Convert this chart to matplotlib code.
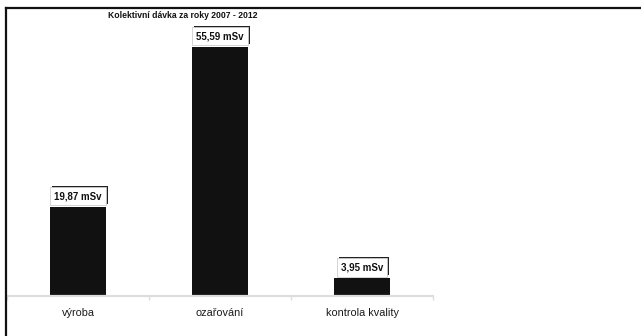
import matplotlib.pyplot as plt
import matplotlib.patheffects as pe
from matplotlib.lines import Line2D

categories = ['výroba', 'ozařování', 'kontrola kvality']
values = [19.87, 55.59, 3.95]
value_labels = ['19,87 mSv', '55,59 mSv', '3,95 mSv']
title = 'Kolektivní dávka za roky 2007 - 2012'

plt.rcParams['font.family'] = ['Liberation Sans', 'DejaVu Sans']

W, H = 641, 336
fig = plt.figure(figsize=(W / 100, H / 100), dpi=100)

# plot area in pixel terms: x 7..433, baseline at y=296
left, right, base, top = 7, 433, 296, 20
ax = fig.add_axes([left / W, (H - base) / H, (right - left) / W, (base - top) / H])
ax.bar(range(len(values)), values, width=0.4, color='#111111', zorder=2)
ax.set_xlim(-0.5, len(values) - 0.5)
ax.set_ylim(0, (base - top) / 4.48)

for s in ['left', 'right', 'top']:
    ax.spines[s].set_visible(False)
ax.spines['bottom'].set_color('#dddddd')
ax.spines['bottom'].set_linewidth(1.6)
ax.set_yticks([])
ax.set_xticks([-0.5, 0.5, 1.5, 2.5])
ax.set_xticklabels([])
ax.tick_params(axis='x', length=3, color='#dddddd', width=1)
for i, c in enumerate(categories):
    ax.text(i, -0.062, c, transform=ax.get_xaxis_transform(), ha='center', va='center',
            fontsize=7.8, color='#1a1a1a')

for i, (v, lab) in enumerate(zip(values, value_labels)):
    t = ax.annotate(lab, (i, v), xytext=(0, 7.8), textcoords='offset points',
                    ha='center', va='center', fontsize=7, fontweight='bold', color='#111111',
                    bbox=dict(boxstyle='square,pad=0.42', fc='white', ec='#cccccc', lw=0.6),
                    zorder=3)
    t.get_bbox_patch().set_path_effects([
        pe.SimplePatchShadow(offset=(1.5, 0.8), shadow_rgbFace='#222222', alpha=1.0),
        pe.Normal()])

fig.text(183 / W, 1 - 16 / H, title, ha='center', va='center', fontsize=6.2,
         fontweight='bold', color='#111111')

# outer frame: top and left edges
fig.add_artist(Line2D([6 / W, 1], [1 - 8 / H, 1 - 8 / H], transform=fig.transFigure,
                      color='#111111', lw=1.6))
fig.add_artist(Line2D([6 / W, 6 / W], [0, 1 - 8 / H], transform=fig.transFigure,
                      color='#111111', lw=1.6))

fig.savefig('out.png', dpi=100)
